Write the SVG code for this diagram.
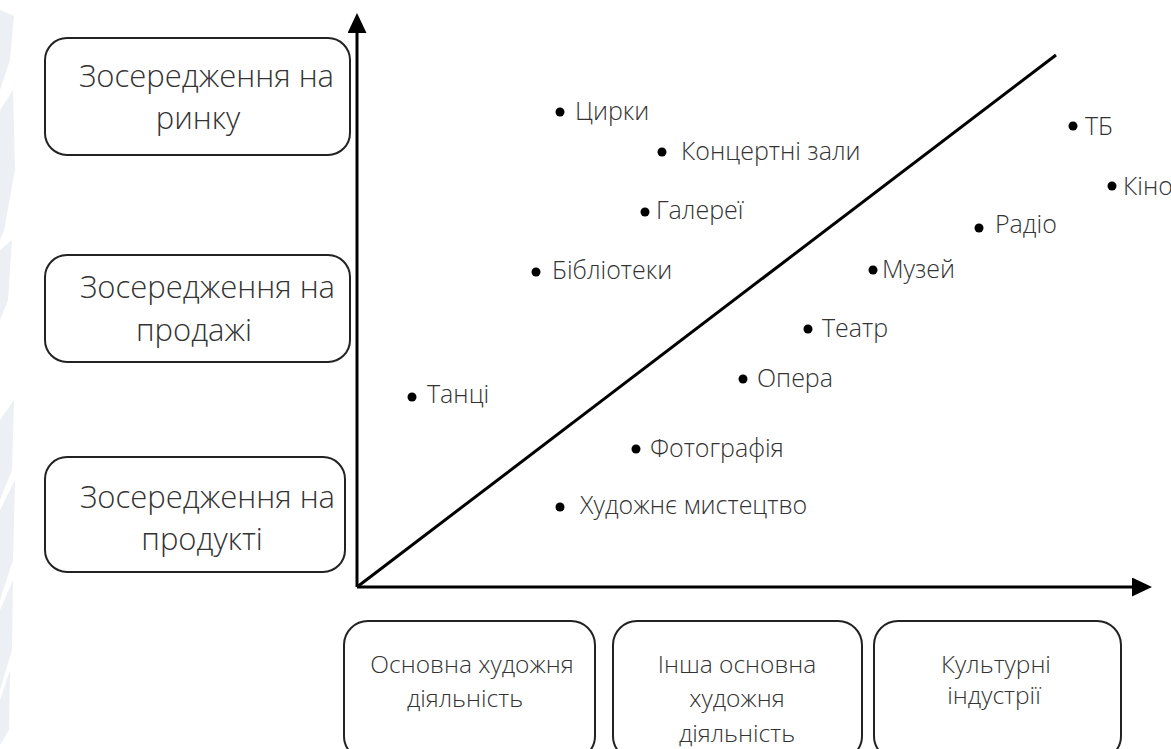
<svg xmlns="http://www.w3.org/2000/svg" width="1171" height="749" viewBox="0 0 1171 749">
  <style>
    .box { fill: #ffffff; stroke: #222222; stroke-width: 2; }
    .axis { stroke: #000000; stroke-width: 3; fill: none; }
    .big { font-family: "Open Sans", "Liberation Sans", sans-serif; font-weight: 300; font-size: 31px; fill: #333333; }
    .mid { font-family: "Open Sans", "Liberation Sans", sans-serif; font-weight: 300; font-size: 24.5px; fill: #333333; text-anchor: middle; }
    .lbl { font-family: "Open Sans", "Liberation Sans", sans-serif; font-weight: 300; font-size: 25px; fill: #333333; }
    .dot { fill: #000000; }
    .bg { fill: #eceff4; }
  </style>
  <defs>
    <marker id="arrow" markerUnits="userSpaceOnUse" markerWidth="20" markerHeight="20" refX="0" refY="9.5" orient="auto">
      <path d="M0,0 L20,9.5 L0,19 Z" fill="#000000"/>
    </marker>
  </defs>
  <rect width="1171" height="749" fill="#ffffff"/>
  <g id="background-pattern">
    <path class="bg" d="M0,10 L14,16 L10,60 L0,90 Z"/>
    <path class="bg" d="M0,110 L13,90 L15,170 L4,230 L0,240 Z"/>
    <path class="bg" d="M0,250 L12,240 L8,300 L0,320 Z"/>
    <path class="bg" d="M0,420 L14,400 L12,470 L0,500 Z"/>
    <path class="bg" d="M0,510 L15,480 L13,560 L0,600 Z"/>
    <path class="bg" d="M0,610 L13,580 L12,650 L0,690 Z"/>
    <path class="bg" d="M0,700 L10,670 L9,730 L0,745 Z"/>
  </g>

  <g id="connectors">
    <line class="axis" x1="357" y1="587" x2="357" y2="33" marker-end="url(#arrow)"/>
    <line class="axis" x1="357" y1="587" x2="1132" y2="587" marker-end="url(#arrow)"/>
    <line class="axis" x1="357" y1="587" x2="1056" y2="55"/>
  </g>

  <g id="focus-market">
    <rect class="box" x="45" y="38" width="305" height="117" rx="22"/>
    <text class="big" x="79" y="87">Зосередження на</text>
    <text class="big" x="198" y="129" text-anchor="middle">ринку</text>
  </g>
  <g id="focus-sales">
    <rect class="box" x="45" y="255" width="305" height="107" rx="22"/>
    <text class="big" x="80" y="298">Зосередження на</text>
    <text class="big" x="194" y="341" text-anchor="middle">продажі</text>
  </g>
  <g id="focus-product">
    <rect class="box" x="45" y="457" width="300" height="115" rx="22"/>
    <text class="big" x="80" y="508">Зосередження на</text>
    <text class="big" x="202" y="550" text-anchor="middle">продукті</text>
  </g>

  <g id="core-arts">
    <rect class="box" x="344" y="621" width="251" height="139" rx="24"/>
    <text class="mid" x="472" y="673">Основна художня</text>
    <text class="mid" x="465" y="707">діяльність</text>
  </g>
  <g id="other-core-arts">
    <rect class="box" x="613" y="621" width="249" height="139" rx="24"/>
    <text class="mid" x="737" y="673">Інша основна</text>
    <text class="mid" x="737" y="707">художня</text>
    <text class="mid" x="737" y="742">діяльність</text>
  </g>
  <g id="cultural-industries">
    <rect class="box" x="874" y="621" width="247" height="139" rx="24"/>
    <text class="mid" x="996" y="673">Культурні</text>
    <text class="mid" x="994" y="704">індустрії</text>
  </g>

  <g id="circus"><circle class="dot" cx="560" cy="112" r="4.5"/><text class="lbl" x="575" y="120">Цирки</text></g>
  <g id="concert-halls"><circle class="dot" cx="662" cy="152" r="4.5"/><text class="lbl" x="681" y="160">Концертні зали</text></g>
  <g id="galleries"><circle class="dot" cx="645" cy="212" r="4.5"/><text class="lbl" x="656" y="219">Галереї</text></g>
  <g id="libraries"><circle class="dot" cx="536" cy="272" r="4.5"/><text class="lbl" x="552" y="279">Бібліотеки</text></g>
  <g id="dance"><circle class="dot" cx="412" cy="397" r="4.5"/><text class="lbl" x="427" y="403">Танці</text></g>
  <g id="tv"><circle class="dot" cx="1073" cy="126" r="4.5"/><text class="lbl" x="1085" y="135">ТБ</text></g>
  <g id="cinema"><circle class="dot" cx="1112" cy="186" r="4.5"/><text class="lbl" x="1123" y="195">Кіно</text></g>
  <g id="radio"><circle class="dot" cx="979" cy="228" r="4.5"/><text class="lbl" x="995" y="233">Радіо</text></g>
  <g id="museum"><circle class="dot" cx="873" cy="270" r="4.5"/><text class="lbl" x="882" y="278">Музей</text></g>
  <g id="theatre"><circle class="dot" cx="808" cy="329" r="4.5"/><text class="lbl" x="822" y="337">Театр</text></g>
  <g id="opera"><circle class="dot" cx="743" cy="379" r="4.5"/><text class="lbl" x="757" y="387">Опера</text></g>
  <g id="photography"><circle class="dot" cx="636" cy="449" r="4.5"/><text class="lbl" x="650" y="457">Фотографія</text></g>
  <g id="fine-art"><circle class="dot" cx="560" cy="507" r="4.5"/><text class="lbl" x="580" y="514">Художнє мистецтво</text></g>
</svg>
